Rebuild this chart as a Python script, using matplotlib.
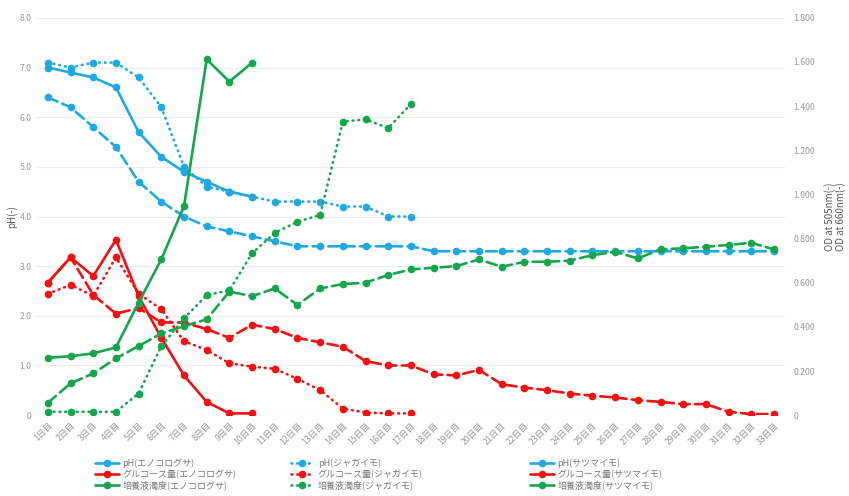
import matplotlib
matplotlib.use("Agg")
import matplotlib.pyplot as plt
import numpy as np

plt.rcParams['font.family'] = ['Noto Sans CJK JP', 'DejaVu Sans']

days = ['1日目', '2日目', '3日目', '4日目', '5日目', '6日目', '7日目', '8日目', '9日目', '10日目',
        '11日目', '12日目', '13日目', '14日目', '15日目', '16日目', '17日目', '18日目', '19日目', '20日目',
        '21日目', '22日目', '23日目', '24日目', '25日目', '26日目', '27日目', '28日目', '29日目', '30日目',
        '31日目', '32日目', '33日目']

# pH (left axis)
ph_eno = [7.0, 6.9, 6.8, 6.6, 5.7, 5.2, 4.9, 4.7, 4.5, 4.4]
ph_jaga = [7.1, 7.0, 7.1, 7.1, 6.8, 6.2, 5.0, 4.6, 4.5, 4.4, 4.3, 4.3, 4.3, 4.2, 4.2, 4.0, 4.0]
ph_satsu = [6.4, 6.2, 5.8, 5.4, 4.7, 4.3, 4.0, 3.8, 3.7, 3.6, 3.5, 3.4, 3.4, 3.4, 3.4, 3.4, 3.4,
            3.3, 3.3, 3.3, 3.3, 3.3, 3.3, 3.3, 3.3, 3.3, 3.3, 3.3, 3.3, 3.3, 3.3, 3.3, 3.3]

# glucose, OD 505nm (right axis)
glu_eno = [0.60, 0.715, 0.63, 0.795, 0.54, 0.35, 0.18, 0.06, 0.008, 0.008]
glu_jaga = [0.55, 0.59, 0.54, 0.715, 0.55, 0.48, 0.335, 0.295, 0.235, 0.22, 0.21, 0.165,
            0.113, 0.03, 0.012, 0.008, 0.008]
glu_satsu = [0.60, 0.715, 0.545, 0.46, 0.485, 0.42, 0.42, 0.39, 0.35, 0.41, 0.39, 0.35, 0.33,
             0.31, 0.245, 0.225, 0.225, 0.185, 0.18, 0.205, 0.14, 0.125, 0.113, 0.098, 0.088,
             0.08, 0.068, 0.06, 0.05, 0.05, 0.015, 0.005, 0.005]

# turbidity, OD 660nm (right axis)
turb_eno = [0.26, 0.267, 0.28, 0.307, 0.51, 0.706, 0.947, 1.612, 1.511, 1.597]
turb_jaga = [0.015, 0.015, 0.015, 0.015, 0.098, 0.313, 0.438, 0.544, 0.565, 0.733, 0.826,
             0.876, 0.907, 1.33, 1.34, 1.30, 1.41]
turb_satsu = [0.056, 0.144, 0.189, 0.257, 0.313, 0.37, 0.403, 0.434, 0.56, 0.539, 0.574,
              0.499, 0.574, 0.594, 0.6, 0.635, 0.66, 0.668, 0.675, 0.706, 0.672, 0.695,
              0.695, 0.7, 0.725, 0.74, 0.71, 0.751, 0.756, 0.763, 0.771, 0.781, 0.751]

blue = '#1fa8e2'
red = '#f21010'
green = '#14a64c'

solid = '-'
dotted = (0, (0.3, 1.9))
dashed = (0, (4, 2))

fig = plt.figure(figsize=(8.49, 4.96), dpi=100)
ax = fig.add_axes([0.043, 0.163, 0.882, 0.801])
ax2 = ax.twinx()

def draw(axis, vals, color, ls, label):
    x = np.arange(len(vals))
    line, = axis.plot(x, vals, color=color, linestyle=ls, linewidth=1.9,
                      marker='o', markersize=4.5, dash_capstyle='round',
                      solid_capstyle='round', label=label)
    return line

h = {}
h['ph_s'] = draw(ax, ph_satsu, blue, dashed, 'pH(サツマイモ)')
h['ph_j'] = draw(ax, ph_jaga, blue, dotted, 'pH(ジャガイモ)')
h['ph_e'] = draw(ax, ph_eno, blue, solid, 'pH(エノコログサ)')
h['glu_s'] = draw(ax2, glu_satsu, red, dashed, 'グルコース量(サツマイモ)')
h['glu_j'] = draw(ax2, glu_jaga, red, dotted, 'グルコース量(ジャガイモ)')
h['glu_e'] = draw(ax2, glu_eno, red, solid, 'グルコース量(エノコログサ)')
h['tu_s'] = draw(ax2, turb_satsu, green, dashed, '培養液濁度(サツマイモ)')
h['tu_j'] = draw(ax2, turb_jaga, green, dotted, '培養液濁度(ジャガイモ)')
h['tu_e'] = draw(ax2, turb_eno, green, solid, '培養液濁度(エノコログサ)')

ax.set_xlim(-0.5, len(days) - 0.5)
ax.set_ylim(0, 8)
ax2.set_ylim(0, 1.8)
ax.set_yticks(np.arange(0, 9, 1))
ax.set_yticklabels(['0'] + [f'{v:.1f}' for v in range(1, 9)])
ax2.set_yticks(np.arange(0, 2.0, 0.2))
ax2.set_yticklabels(['0'] + [f'{v:.3f}' for v in np.arange(0.2, 1.9, 0.2)])
ax.set_xticks(np.arange(len(days)))
ax.set_xticklabels(days, rotation=45, ha='right', rotation_mode='anchor')

ax.grid(axis='y', color='#ececec', linewidth=0.8)
ax.set_axisbelow(True)
for a in (ax, ax2):
    for s in a.spines.values():
        s.set_visible(False)
    a.tick_params(length=0, colors='#999999', labelsize=6.3)
ax.tick_params(axis='x', pad=4)
ax2.tick_params(axis='y', pad=6)

ax.set_ylabel('pH(-)', color='#555555', fontsize=7, labelpad=2)
ax2.set_ylabel('OD at 505nm(-)\nOD at 660nm(-)', color='#555555', fontsize=7,
               labelpad=6, linespacing=1.1)

groups = [(['ph_e', 'glu_e', 'tu_e'], 0.106),
          (['ph_j', 'glu_j', 'tu_j'], 0.336),
          (['ph_s', 'glu_s', 'tu_s'], 0.618)]
for keys, xpos in groups:
    hs = [h[k] for k in keys]
    fig.legend(hs, [k.get_label() for k in hs], loc='upper left',
               bbox_to_anchor=(xpos, 0.086), frameon=False, fontsize=6.5,
               handlelength=2.6, labelspacing=0.15, borderpad=0.1,
               handletextpad=0.4, labelcolor='#777777')

fig.savefig('out.png', dpi=100)
